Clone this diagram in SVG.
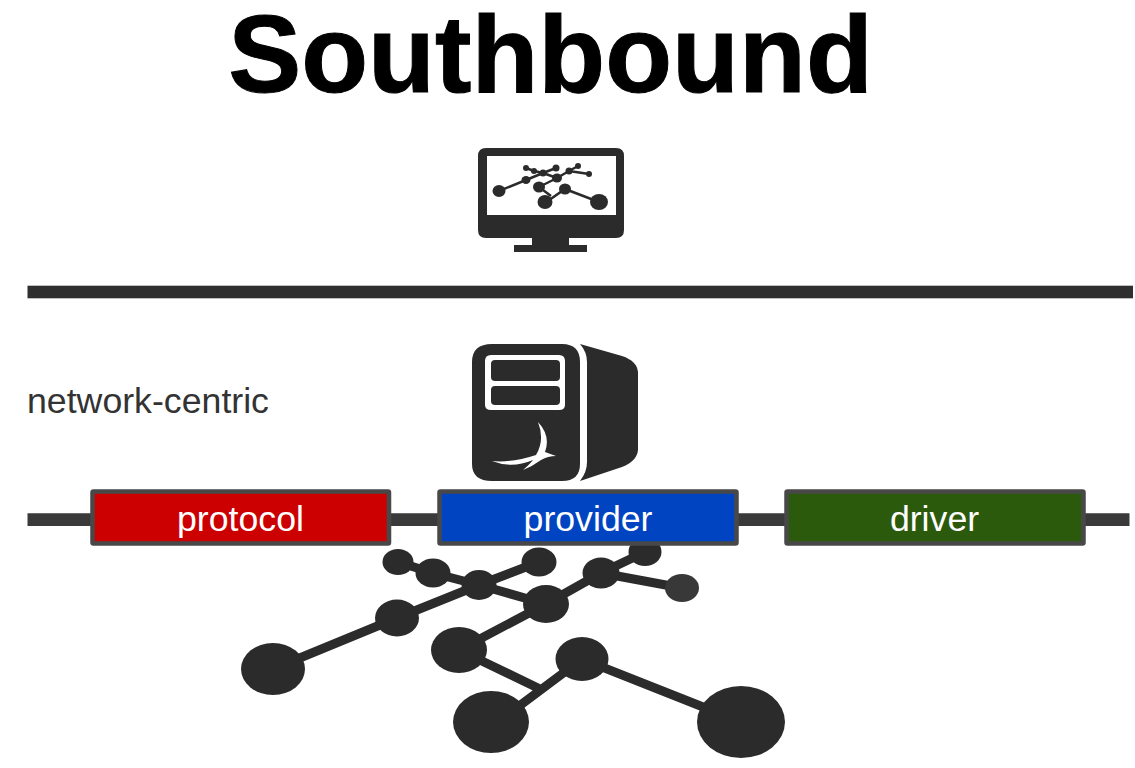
<svg xmlns="http://www.w3.org/2000/svg" width="1135" height="768" viewBox="0 0 1135 768">
<style>
.d{fill:#2b2b2b}
.w{fill:#fff}
.e{stroke:#2b2b2b;stroke-width:9;fill:none}
.box{stroke:#484848;stroke-width:4.500}
.lbl{font-family:"Liberation Sans",Arial,sans-serif;font-size:35.7px;fill:#fff;text-anchor:middle}
.bar{stroke:#3a3a3a;fill:none}
</style>
<rect width="1135" height="768" fill="#fff"/>
<text id="title" x="550.500" y="92" font-family="Liberation Sans, sans-serif" font-weight="700" font-size="109.500" stroke="#000" stroke-width="1" fill="#000" text-anchor="middle">Southbound</text>
<g id="monitor">
<path class="d" fill-rule="evenodd" d="M486 148H616Q624 148 624 156V230Q624 238 616 238H569V245H587V252H514V245H532V238H486Q478 238 478 230V156Q478 148 486 148ZM487 156V215H616V156Z"/>
<g stroke="#2b2b2b" stroke-width="2.500" fill="none"><path d="M499 191L526 180L543 173L556 168M526 168L534 171L543 173L557 178M539 187L557 178L569 171L578 166M569 171L589 174M539 187L551 196M545 203L565 189L599 202"/></g>
<g class="d"><ellipse cx="499" cy="191" rx="6.500" ry="6"/><ellipse cx="526" cy="180" rx="4.500" ry="4"/><circle cx="526" cy="168" r="3"/><circle cx="534" cy="171" r="3"/><circle cx="543" cy="173" r="3.500"/><circle cx="556" cy="168" r="3.500"/><ellipse cx="557" cy="178" rx="5" ry="4.500"/><circle cx="569" cy="171" r="3.500"/><circle cx="578" cy="166" r="3"/><circle cx="589" cy="174" r="3"/><ellipse cx="539" cy="187" rx="6" ry="5.500"/><ellipse cx="565" cy="189" rx="6" ry="5.500"/><ellipse cx="545" cy="202" rx="7.500" ry="7"/><ellipse cx="599" cy="202" rx="9" ry="8"/></g>
</g>
<rect id="divider" x="27.500" y="285.700" width="1105.500" height="12.600" fill="#2f2f2f"/>
<text id="network-centric" x="27" y="413.300" font-family="Liberation Sans, sans-serif" font-size="35.700" fill="#333">network-centric</text>
<g id="server">
<path class="d" fill-rule="evenodd" d="M492 344H562Q580 344 580 362V464Q580 481 562 481H492Q472 481 472 464V362Q472 344 492 344ZM491 355Q485 355 485 361V405Q485 410 491 410H559Q565 410 565 405V361Q565 355 559 355Z"/>
<rect class="d" x="491" y="360" width="69" height="21" rx="4"/>
<rect class="d" x="491" y="386" width="69" height="19" rx="4"/>
<path class="d" d="M580 344L622 356Q637 361 638 372V450Q637 461 622 467L580 481Q587 472 587 462V362Q587 352 580 344Z"/>
<path class="w" d="M538 422Q551 436 545 452L556 456Q548 456 541 460Q533 466 523 470Q530 464 533 460Q512 469 492 461Q512 463 536 455Q545 440 538 422Z"/>
</g>
<g id="connectors">
<path class="bar" stroke-width="12.700" d="M27.500 519.700H1129.500"/>
<path class="e" d="M273 669L397 618L479 585L539 562M398 562L433 573L479 585L546 604M459 650L546 604L601 573L645 552M601 573L682 588M459 650L540 689M491 727L582 659L741 722"/>
<g class="d">
<ellipse cx="273" cy="669" rx="32" ry="26"/>
<ellipse cx="397" cy="618" rx="22" ry="18.500"/>
<ellipse cx="398" cy="562" rx="15.500" ry="13"/>
<ellipse cx="433" cy="573" rx="17.500" ry="14.500"/>
<ellipse cx="479" cy="585" rx="17.500" ry="15"/>
<ellipse cx="539" cy="562" rx="17.500" ry="14.500"/>
<ellipse cx="546" cy="604" rx="23" ry="19"/>
<ellipse cx="601" cy="573" rx="18.500" ry="15.500"/>
<ellipse cx="645" cy="552" rx="16.500" ry="14"/>
<ellipse cx="682" cy="588" rx="17" ry="14" fill="#383838"/>
<ellipse cx="459" cy="650" rx="28" ry="23"/>
<ellipse cx="582" cy="659" rx="26.500" ry="22"/>
<ellipse cx="491" cy="722" rx="38" ry="31"/>
<ellipse cx="741" cy="722" rx="44" ry="36"/>
</g>
</g>
<g id="protocol"><rect class="box" x="92.500" y="491.500" width="296.500" height="52" rx="1" fill="#cc0000"/><text class="lbl" x="240.500" y="530.500">protocol</text></g>
<g id="provider"><rect class="box" x="439.500" y="491.500" width="297" height="52" rx="1" fill="#0044c2"/><text class="lbl" x="588" y="530.500">provider</text></g>
<g id="driver"><rect class="box" x="786.500" y="491.500" width="297" height="52" rx="1" fill="#2c5a0c"/><text class="lbl" x="934.500" y="530.500">driver</text></g>
</svg>
